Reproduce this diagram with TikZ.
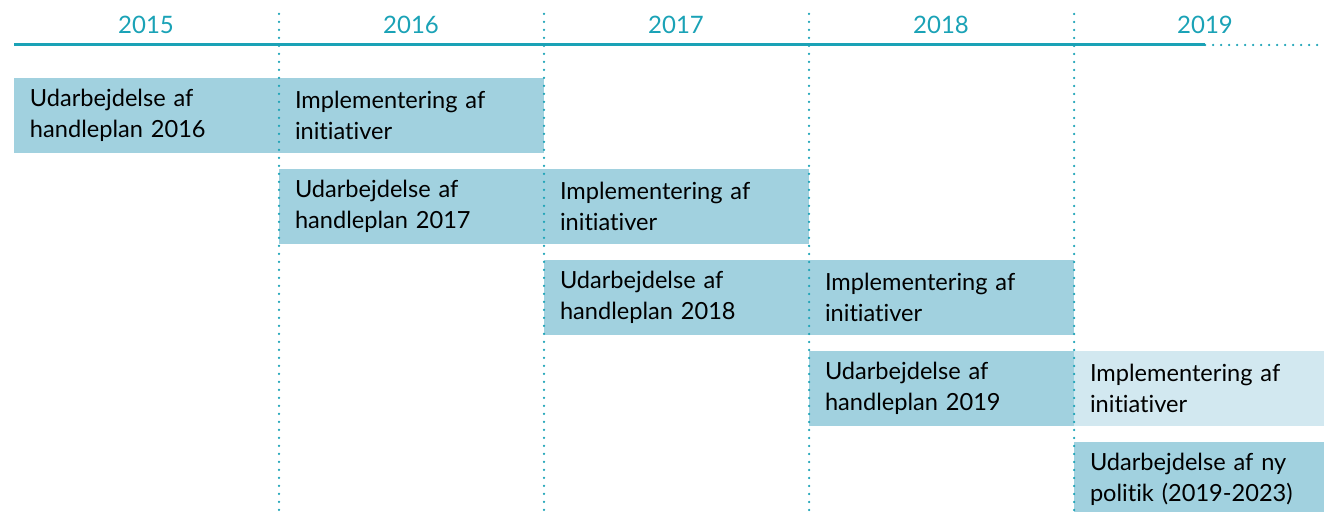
\documentclass[tikz,border=0pt]{standalone}
\usepackage{fontspec}
\setmainfont[Ligatures=NoCommon]{Lato}
\usetikzlibrary{positioning}
\definecolor{yearteal}{HTML}{1AA2B6}
\definecolor{phasefill}{HTML}{A1D1DF}
\definecolor{laterfill}{HTML}{D2E8F0}
\tikzstyle{phase} = [fill=phasefill, outer sep=0pt, inner xsep=8pt, inner ysep=0pt, text width=116.5pt, minimum height=37.5pt, align=left, font=\fontsize{11.8}{15.75}\selectfont, text=black]
\tikzstyle{lastphase} = [phase, text width=109pt]
\tikzstyle{year} = [text=yearteal, font=\fontsize{12}{14}\selectfont]
\tikzstyle{yearline} = [yearteal, line width=1.25pt, line cap=round, dash pattern=on 0pt off 4pt]

\begin{document}
\begin{tikzpicture}[x=0.5pt, y=-0.5pt]
                        \useasboundingbox (0,0) rectangle (1324,512);
                        % years
                        \node[year] (y15) at (146,25) {2015};
                        \node[year] (y16) at (411,25) {2016};
                        \node[year] (y17) at (676,25) {2017};
                        \node[year] (y18) at (941,25) {2018};
                        \node[year] (y19) at (1205,25) {2019};
                        \coordinate (tstart) at (14,45);
                        \coordinate (tend) at (1205,45);
                        \coordinate (tmore) at (1324,45);
                        \draw[yearteal, line width=1.5pt] (tstart) -- (tend);
                        \draw[yearline] (tend) -- (tmore);
                        % phases
                        \node[phase, anchor=north west] (u16) at (14,78) {Udarbejdelse af\\handleplan 2016};
                        \node[phase, right=0pt of u16] (i16) {Implementering af\\initiativer};
                        \node[phase, below=8pt of i16] (u17) {Udarbejdelse af\\handleplan 2017};
                        \node[phase, right=0pt of u17] (i17) {Implementering af\\initiativer};
                        \node[phase, below=8pt of i17] (u18) {Udarbejdelse af\\handleplan 2018};
                        \node[phase, right=0pt of u18] (i18) {Implementering af\\initiativer};
                        \node[phase, below=8pt of i18] (u19) {Udarbejdelse af\\handleplan 2019};
                        \node[lastphase, fill=laterfill, right=0pt of u19] (i19) {Implementering af\\initiativer};
                        \node[lastphase, below=8pt of i19] (ny) {Udarbejdelse af ny\\politik (2019-2023)};
                        % year borders
                        \foreach \x in {279,544,809,1074}
                            \draw[yearline] (\x,14) -- (\x,512);
                    \end{tikzpicture}
\end{document}
